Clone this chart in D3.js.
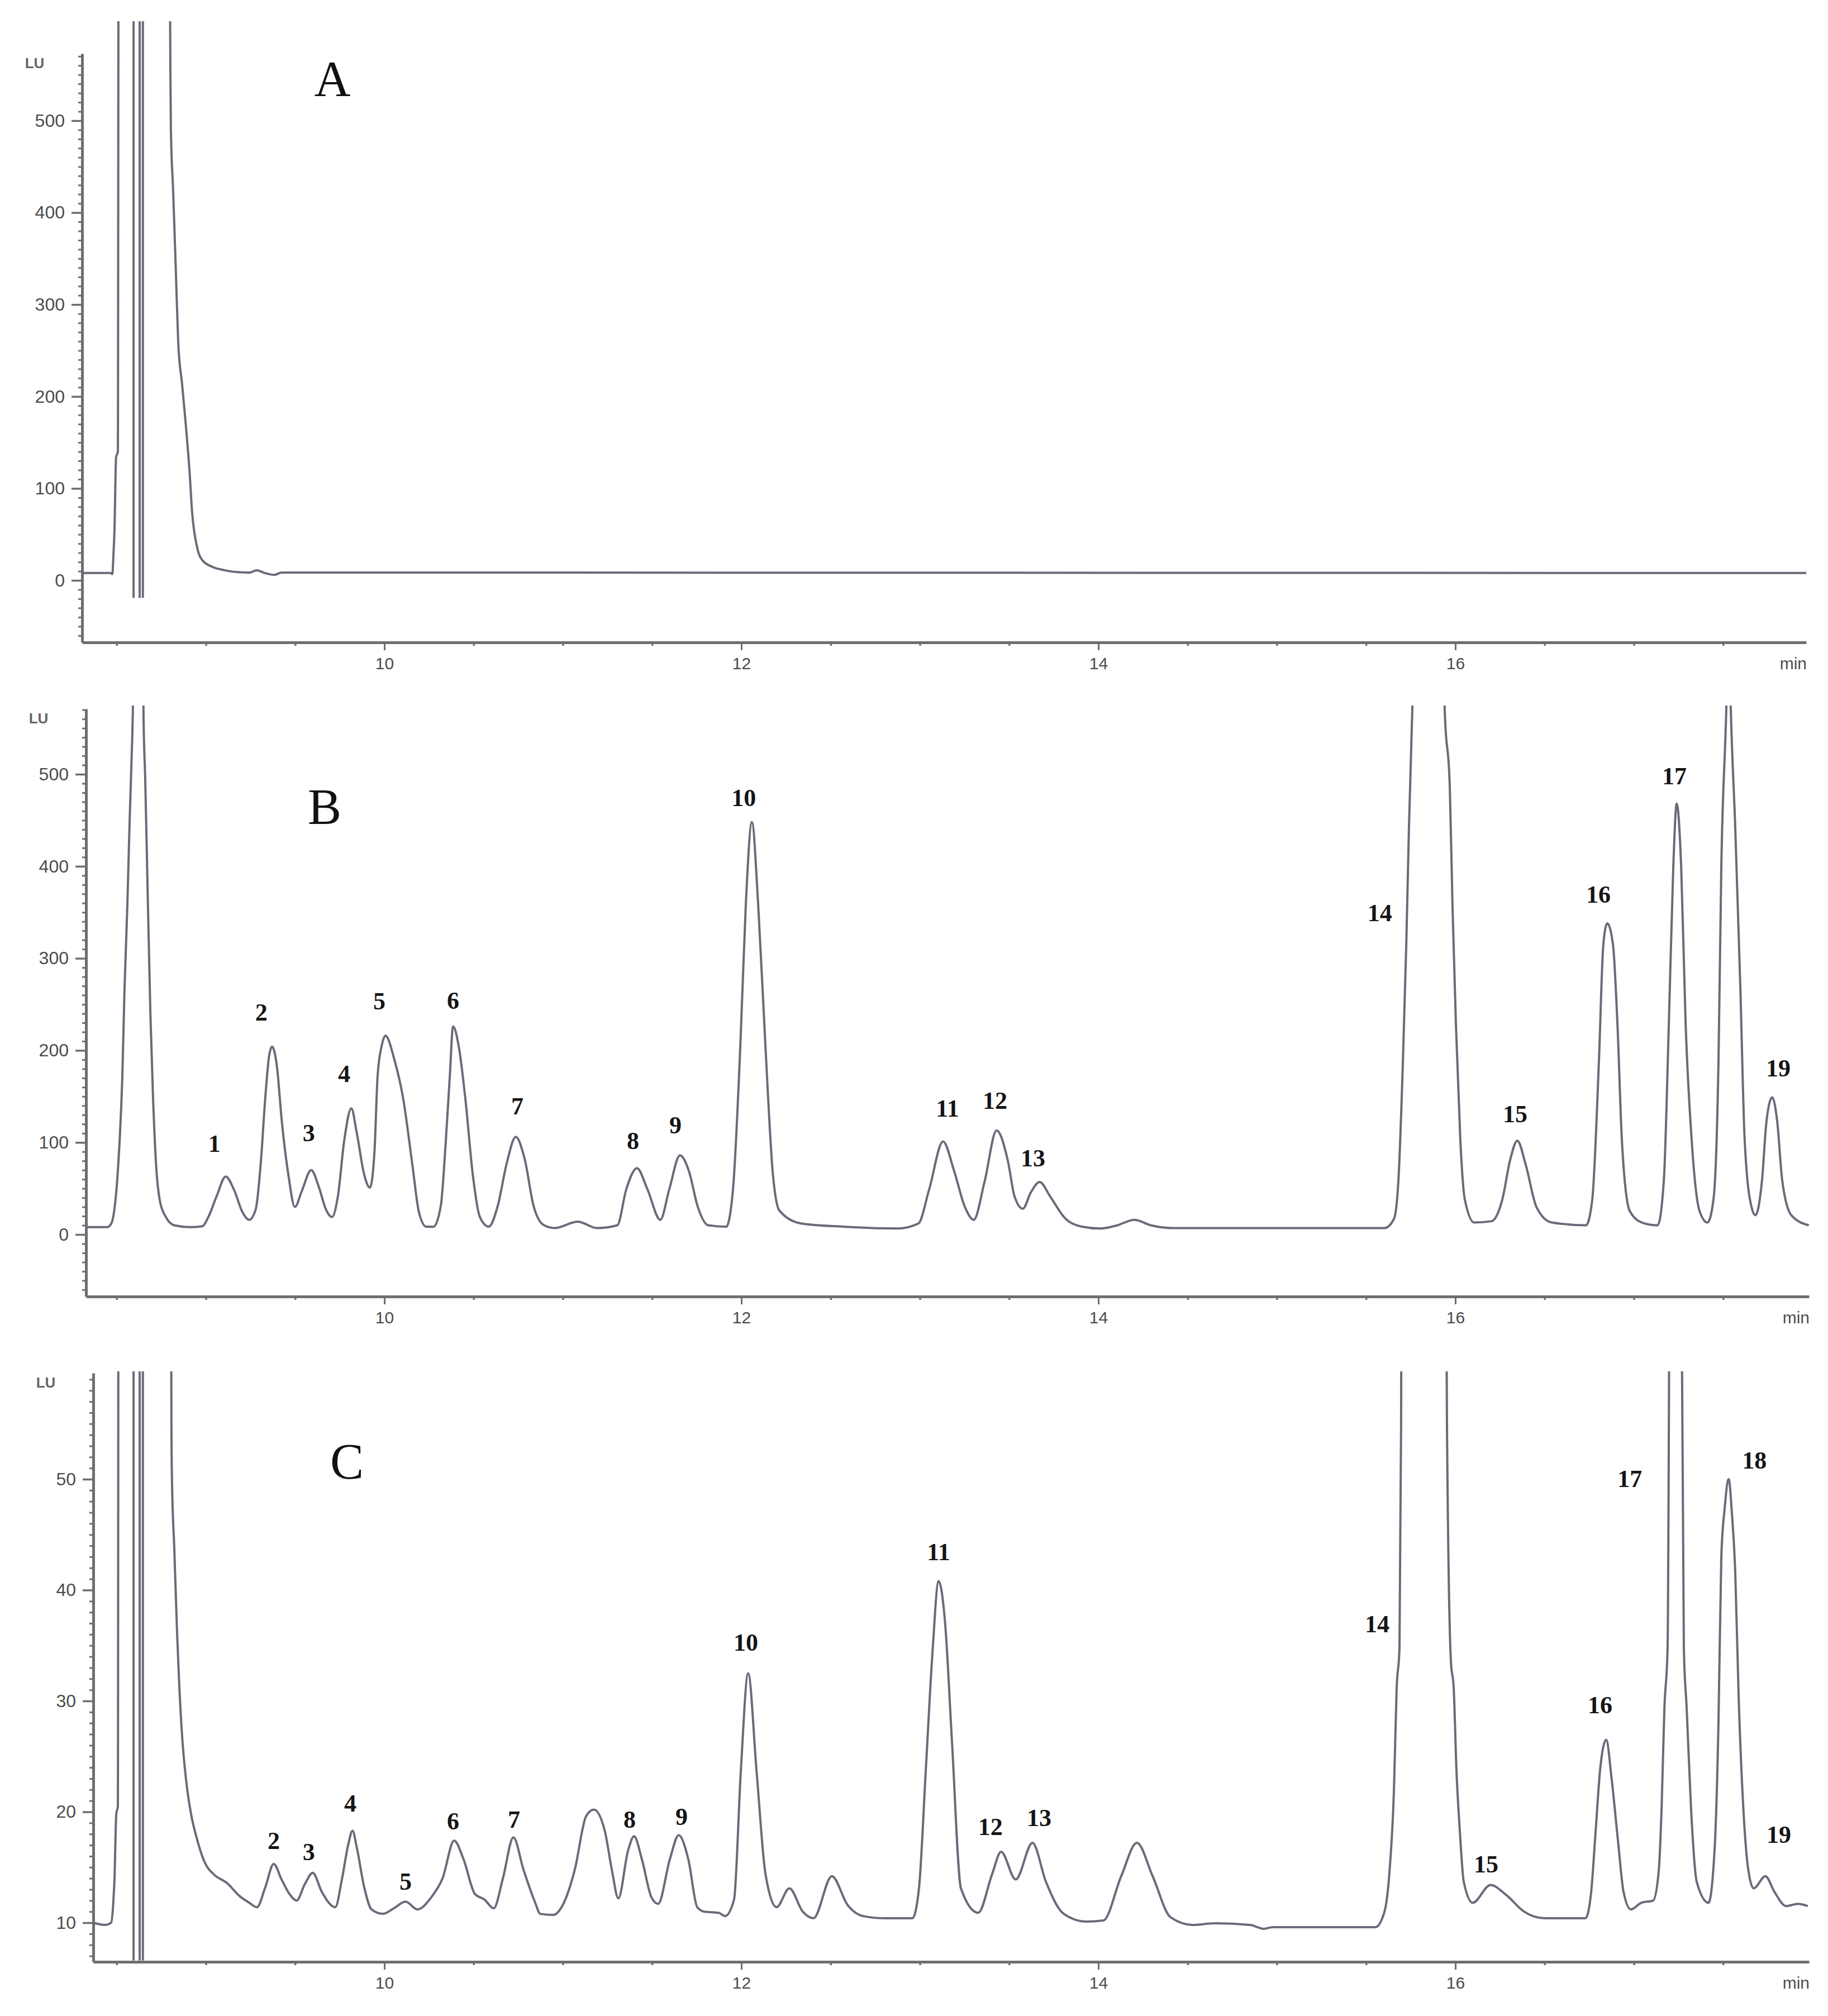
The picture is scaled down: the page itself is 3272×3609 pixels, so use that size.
<!DOCTYPE html>
<html>
<head>
<meta charset="utf-8">
<script src="https://cdn.jsdelivr.net/npm/d3@7"></script>
<style>
  body { margin: 0; background: #fff; }
  text { font-family: "Liberation Sans", Arial, sans-serif; }
</style>
</head>
<body>
<svg width="3272" height="3609"></svg>
<script>
// ---- data: [time (min), signal (LU)] ----
// values above the plotted range are off-scale and get clipped
const traceA = [
  [8.307,8],[8.465,8],[8.476,7],[8.482,27],[8.488,55],[8.497,134],[8.507,140],[8.511,700],
  [8.797,700],[8.801,560],[8.804,491],[8.817,422],[8.833,329],[8.845,259],[8.867,213],[8.889,166],
  [8.908,120],[8.923,74],[8.951,36],[8.980,22],[9.033,15],[9.105,11],[9.180,9],[9.243,8.5],
  [9.286,11],[9.330,8],[9.383,6],[9.424,8.5],[17.966,8]
];

const traceB = [
  [8.329,8],[8.448,8],[8.469,11.5],[8.488,28],[8.510,79],[8.532,172],[8.544,265],[8.560,357],
  [8.573,450],[8.588,543],[8.598,620],[8.648,620],[8.651,560],[8.660,497],[8.673,380],[8.689,241],
  [8.704,149],[8.720,79],[8.742,37],[8.776,19],[8.823,10],[8.908,8],[8.980,9],[9.014,19],
  [9.061,42],[9.111,63],[9.161,47],[9.202,25.5],[9.243,16],[9.280,28],[9.308,79],[9.333,149],
  [9.355,195],[9.371,204],[9.399,181],[9.424,126],[9.462,65],[9.499,30],[9.537,47],[9.590,70],
  [9.634,51],[9.671,28],[9.706,19],[9.740,42],[9.775,102],[9.815,137],[9.844,112],[9.887,65],
  [9.919,51],[9.944,88],[9.962,172],[9.985,205],[10.006,216],[10.056,190],[10.106,147],
  [10.156,77],[10.194,24],[10.235,8.5],[10.275,8.5],[10.316,31],[10.344,101],[10.366,170],[10.385,226],
  [10.416,205],[10.454,147],[10.495,65.5],[10.535,19],[10.585,8.5],[10.635,31],[10.685,77],[10.736,106],
  [10.786,82],[10.836,31],[10.895,10],[10.955,7],[11.083,14],[11.192,7],[11.305,10],[11.355,49],
  [11.415,72],[11.474,49],[11.546,16],[11.596,49],[11.656,86],[11.706,69],[11.756,30],[11.815,10],
  [11.915,8.5],[11.953,49],[11.994,204],[12.025,359],[12.059,448],[12.094,359],[12.135,204],[12.175,69],
  [12.213,26],[12.335,12],[12.573,8.5],[12.873,6.5],[12.992,12],[13.052,49],[13.130,101],[13.192,69],
  [13.252,30],[13.302,16],[13.362,57],[13.430,113],[13.493,80],[13.531,41],[13.577,28],[13.621,45.5],
  [13.671,57],[13.731,41],[13.812,18],[13.909,8.5],[14.009,6.5],[14.106,10],[14.200,16],[14.294,10],
  [14.419,7],[15.603,7],[15.656,17],[15.681,59],[15.706,187],[15.725,315],[15.740,442],[15.759,572],
  [15.765,620],[15.934,620],[15.940,572],[15.969,485],[15.984,357],[16.003,229],[16.028,102],[16.053,38],
  [16.106,13],[16.203,14.5],[16.263,38],[16.307,81],[16.347,102],[16.394,76],[16.454,30],[16.541,13],
  [16.732,10],[16.767,38],[16.804,187],[16.829,315],[16.851,338],[16.883,315],[16.908,229],[16.933,102],
  [16.977,25.5],[17.045,13],[17.133,10],[17.168,59],[17.196,229],[17.221,400],[17.240,468],[17.265,400],
  [17.290,229],[17.324,102],[17.368,25.5],[17.412,13],[17.446,38],[17.474,187],[17.490,400],[17.518,572],
  [17.524,620],[17.537,620],[17.543,572],[17.568,442],[17.596,272],[17.621,102],[17.659,30],[17.681,21],
  [17.718,59],[17.743,123],[17.775,149],[17.803,123],[17.831,59],[17.882,21],[17.980,10]
];

const traceC = [
  [8.369,10],[8.435,9.8],[8.469,10],[8.482,12],[8.488,13.9],[8.498,19.8],[8.507,20.5],[8.511,80],
  [8.803,80],[8.807,55],[8.810,50],[8.823,43.8],[8.839,36],[8.851,31.4],[8.867,26.8],[8.889,22.9],
  [8.917,19.8],[8.951,17.5],[8.992,15.5],[9.049,14.3],[9.117,13.6],[9.189,12.4],[9.243,11.8],[9.286,11.4],
  [9.333,13.2],[9.380,15.3],[9.424,13.9],[9.468,12.6],[9.509,12],[9.552,13.4],[9.599,14.5],[9.649,12.8],
  [9.725,11.4],[9.762,13.9],[9.797,17],[9.822,18.3],[9.844,16.9],[9.887,13.2],[9.928,11.2],[9.991,10.8],
  [10.053,11.3],[10.119,11.9],[10.185,11.2],[10.263,12.3],[10.326,14],[10.391,17.4],[10.444,15.7],[10.507,12.6],
  [10.560,12.1],[10.613,11.3],[10.664,14],[10.723,17.7],[10.779,14.8],[10.845,11.8],[10.873,10.8],[10.948,10.7],
  [10.989,11.3],[11.067,14.8],[11.130,19.6],[11.174,20.2],[11.236,18.2],[11.274,14.8],[11.311,12.2],[11.365,16.5],
  [11.399,17.8],[11.443,15.7],[11.496,12.3],[11.534,11.7],[11.599,15.7],[11.649,17.9],[11.703,15.7],[11.753,11.4],
  [11.793,11],[11.872,10.9],[11.909,10.6],[11.959,12.1],[11.997,23.7],[12.038,32.5],[12.085,23.7],[12.135,14.4],
  [12.197,11.4],[12.269,13.1],[12.344,11.0],[12.404,10.4],[12.507,14.2],[12.595,11.6],[12.682,10.6],[12.808,10.4],
  [12.958,10.4],[12.995,13.1],[13.033,23.7],[13.070,34.2],[13.105,40.8],[13.142,36.9],[13.180,26.3],[13.230,13.1],
  [13.327,10.9],[13.405,14.4],[13.455,16.4],[13.537,13.9],[13.631,17.2],[13.706,13.7],[13.806,10.8],[13.931,10.1],
  [14.028,10.2],[14.128,14.2],[14.216,17.2],[14.304,14.2],[14.404,10.5],[14.529,9.8],[14.654,9.95],[14.851,9.8],
  [14.926,9.45],[14.977,9.6],[15.552,9.6],[15.603,11],[15.631,14.6],[15.656,22],[15.671,31.1],[15.687,34.8],
  [15.696,55],[15.700,80],[15.944,80],[15.953,55],[15.975,33.6],[15.991,31.1],[16.006,23.8],[16.025,18.3],
  [16.047,13.7],[16.097,11.8],[16.197,13.4],[16.285,12.5],[16.385,11],[16.501,10.4],[16.729,10.4],[16.761,12.8],
  [16.786,18.3],[16.811,23.8],[16.845,26.5],[16.876,22.9],[16.911,17.4],[16.942,12.8],[16.983,11.2],[17.042,11.8],
  [17.108,12],[17.139,14.6],[17.155,20.1],[17.171,29.3],[17.189,34.8],[17.205,80],[17.261,80],[17.280,34.8],
  [17.296,29.3],[17.321,20.1],[17.352,13.7],[17.418,11.8],[17.452,16.5],[17.474,28],[17.490,43],[17.509,47.4],
  [17.531,50],[17.549,47],[17.568,41.6],[17.587,30.4],[17.612,20.7],[17.640,14.9],[17.671,13.1],[17.737,14.2],
  [17.787,12.8],[17.853,11.5],[17.919,11.7],[17.975,11.5]
];

// off-scale vertical marks near the solvent front (panels A and C)
const spikeTimes = [8.595, 8.629, 8.647];
const spikeLowA = -19;
const spikeLowC = 6.6;

// peak numbers: [label, time, signal at label centre]
const peaksB = [
  ["1",9.048,98.9],["2",9.311,241.5],["3",9.577,110.4],["4",9.775,174.8],["5",9.972,253.6],
  ["6",10.385,254.2],["7",10.745,139.6],["8",11.393,101.9],["9",11.631,118.9],["10",12.013,474.5],
  ["11",13.155,137.1],["12",13.421,145.6],["13",13.634,83.1],["14",15.577,349.5],["15",16.335,131.1],
  ["16",16.801,369.5],["17",17.227,498.2],["19",17.809,180.8]
];
const peaksC = [
  ["2",9.380,17.41],["3",9.577,16.40],["4",9.809,20.78],["5",10.119,13.73],["6",10.385,19.17],
  ["7",10.726,19.32],["8",11.374,19.32],["9",11.665,19.57],["10",12.025,35.3],["11",13.105,43.45],
  ["12",13.395,18.67],["13",13.668,19.47],["14",15.562,36.95],["15",16.172,15.29],["16",16.811,29.65],
  ["17",16.977,50.05],["18",17.675,51.71],["19",17.812,17.96]
];

const panelTags = ["A", "B", "C"];
const tagTimes = [9.709, 9.665, 9.790];
const tagValues = [527, 446, 50.05];

const yMajorAB = [0, 100, 200, 300, 400, 500];
const yMajorC = [10, 20, 30, 40, 50];
const xMajor = [10, 12, 14, 16];

// ---- layout (pixels) ----
const X = d3.scaleLinear().domain([10, 16]).range([688, 2605]);

const layout = [
  {trace: traceA, peaks: [], yMajor: yMajorAB, minorStep: 10, spikeLow: spikeLowA,
   left: 147, right: 3233, top: 96, bottom: 1150, clipTop: 38, anchor: [[0, 1039], [500, 216]]},
  {trace: traceB, peaks: peaksB, yMajor: yMajorAB, minorStep: 10, spikeLow: null,
   left: 154, right: 3238, top: 1269, bottom: 2321, clipTop: 1263, anchor: [[0, 2210], [500, 1386]]},
  {trace: traceC, peaks: peaksC, yMajor: yMajorC, minorStep: 1, spikeLow: spikeLowC,
   left: 167, right: 3238, top: 2458, bottom: 3512, clipTop: 2455, anchor: [[10, 3442], [50, 2648]]}
];

const axisColor = "#6e6e6e";
const traceColor = "#6a6a7a";
const labelColor = "#4c4c4c";

const svg = d3.select("svg");

layout.forEach((p, i) => {
  const g = svg.append("g");

  const x = d3.scaleLinear()
    .domain([X.invert(p.left), X.invert(p.right)])
    .range([p.left, p.right]);

  const yRaw = d3.scaleLinear()
    .domain([p.anchor[0][0], p.anchor[1][0]])
    .range([p.anchor[0][1], p.anchor[1][1]]);
  const y = d3.scaleLinear()
    .domain([yRaw.invert(p.bottom), yRaw.invert(p.top)])
    .range([p.bottom, p.top]);

  // y axis: minor ticks then labelled major ticks
  const [yLo, yHi] = y.domain();
  const minor = d3.range(Math.ceil(yLo / p.minorStep) * p.minorStep, yHi, p.minorStep)
    .filter(v => !p.yMajor.includes(v));

  g.append("g")
    .attr("transform", `translate(${p.left},0)`)
    .call(d3.axisLeft(y).tickValues(minor).tickSize(7).tickSizeOuter(0).tickFormat(""))
    .call(a => a.select(".domain").attr("stroke", axisColor).attr("stroke-width", 5))
    .call(a => a.selectAll(".tick line").attr("stroke", axisColor).attr("stroke-width", 3));

  g.append("g")
    .attr("transform", `translate(${p.left},0)`)
    .call(d3.axisLeft(y).tickValues(p.yMajor).tickSize(19).tickPadding(12).tickSizeOuter(0))
    .call(a => a.select(".domain").remove())
    .call(a => a.selectAll(".tick line").attr("stroke", axisColor).attr("stroke-width", 3.5))
    .call(a => a.selectAll(".tick text")
      .attr("fill", labelColor)
      .style("font-size", "32px")
      .style("font-family", "'Liberation Sans', Arial, sans-serif"));

  // x axis
  const [xLo, xHi] = x.domain();
  const xMinor = d3.range(Math.ceil(xLo * 2) / 2, xHi, 0.5).filter(v => !xMajor.includes(v));

  g.append("g")
    .attr("transform", `translate(0,${p.bottom})`)
    .call(d3.axisBottom(x).tickValues(xMinor).tickSize(6).tickSizeOuter(0).tickFormat(""))
    .call(a => a.select(".domain").attr("stroke", axisColor).attr("stroke-width", 5))
    .call(a => a.selectAll(".tick line").attr("stroke", axisColor).attr("stroke-width", 3.5));

  g.append("g")
    .attr("transform", `translate(0,${p.bottom})`)
    .call(d3.axisBottom(x).tickValues(xMajor).tickSize(14).tickPadding(13).tickSizeOuter(0))
    .call(a => a.select(".domain").remove())
    .call(a => a.selectAll(".tick line").attr("stroke", axisColor).attr("stroke-width", 3))
    .call(a => a.selectAll(".tick text")
      .attr("fill", labelColor)
      .style("font-size", "30px")
      .style("font-family", "'Liberation Sans', Arial, sans-serif"));

  // unit labels
  g.append("text")
    .attr("x", p.left - 85)
    .attr("y", p.top + 17)
    .attr("dy", "0.35em")
    .attr("text-anchor", "middle")
    .attr("fill", "#666")
    .style("font-size", "26px")
    .style("font-weight", "bold")
    .text("LU");

  g.append("text")
    .attr("x", p.right + 1)
    .attr("y", p.bottom + 48)
    .attr("text-anchor", "end")
    .attr("fill", labelColor)
    .style("font-size", "30px")
    .text("min");

  // trace, clipped at the detector limit
  const clipId = "clip" + i;
  svg.append("clipPath").attr("id", clipId)
    .append("rect")
    .attr("x", p.left - 5)
    .attr("y", p.clipTop)
    .attr("width", p.right - p.left + 20)
    .attr("height", p.bottom - p.clipTop);

  const line = d3.line()
    .x(d => x(d[0]))
    .y(d => y(d[1]))
    .curve(d3.curveMonotoneX);

  g.append("path")
    .datum(p.trace)
    .attr("clip-path", `url(#${clipId})`)
    .attr("fill", "none")
    .attr("stroke", traceColor)
    .attr("stroke-width", 4)
    .attr("stroke-linejoin", "round")
    .attr("d", line);

  if (p.spikeLow !== null) {
    g.selectAll(".spike")
      .data(spikeTimes)
      .join("line")
      .attr("class", "spike")
      .attr("x1", d => x(d)).attr("x2", d => x(d))
      .attr("y1", y(p.spikeLow))
      .attr("y2", p.clipTop)
      .attr("stroke", traceColor)
      .attr("stroke-width", 4);
  }

  // peak numbers
  g.selectAll(".peak")
    .data(p.peaks)
    .join("text")
    .attr("class", "peak")
    .attr("x", d => x(d[1]))
    .attr("y", d => y(d[2]))
    .attr("dy", "0.35em")
    .attr("text-anchor", "middle")
    .attr("fill", "#151515")
    .style("font-family", "'Liberation Serif', 'Times New Roman', serif")
    .style("font-weight", "bold")
    .style("font-size", "44px")
    .text(d => d[0]);

  // panel letter
  g.append("text")
    .attr("x", x(tagTimes[i]))
    .attr("y", y(tagValues[i]))
    .attr("text-anchor", "middle")
    .attr("fill", "#111")
    .style("font-family", "'Liberation Serif', 'Times New Roman', serif")
    .style("font-size", "90px")
    .text(panelTags[i]);
});
</script>
</body>
</html>
